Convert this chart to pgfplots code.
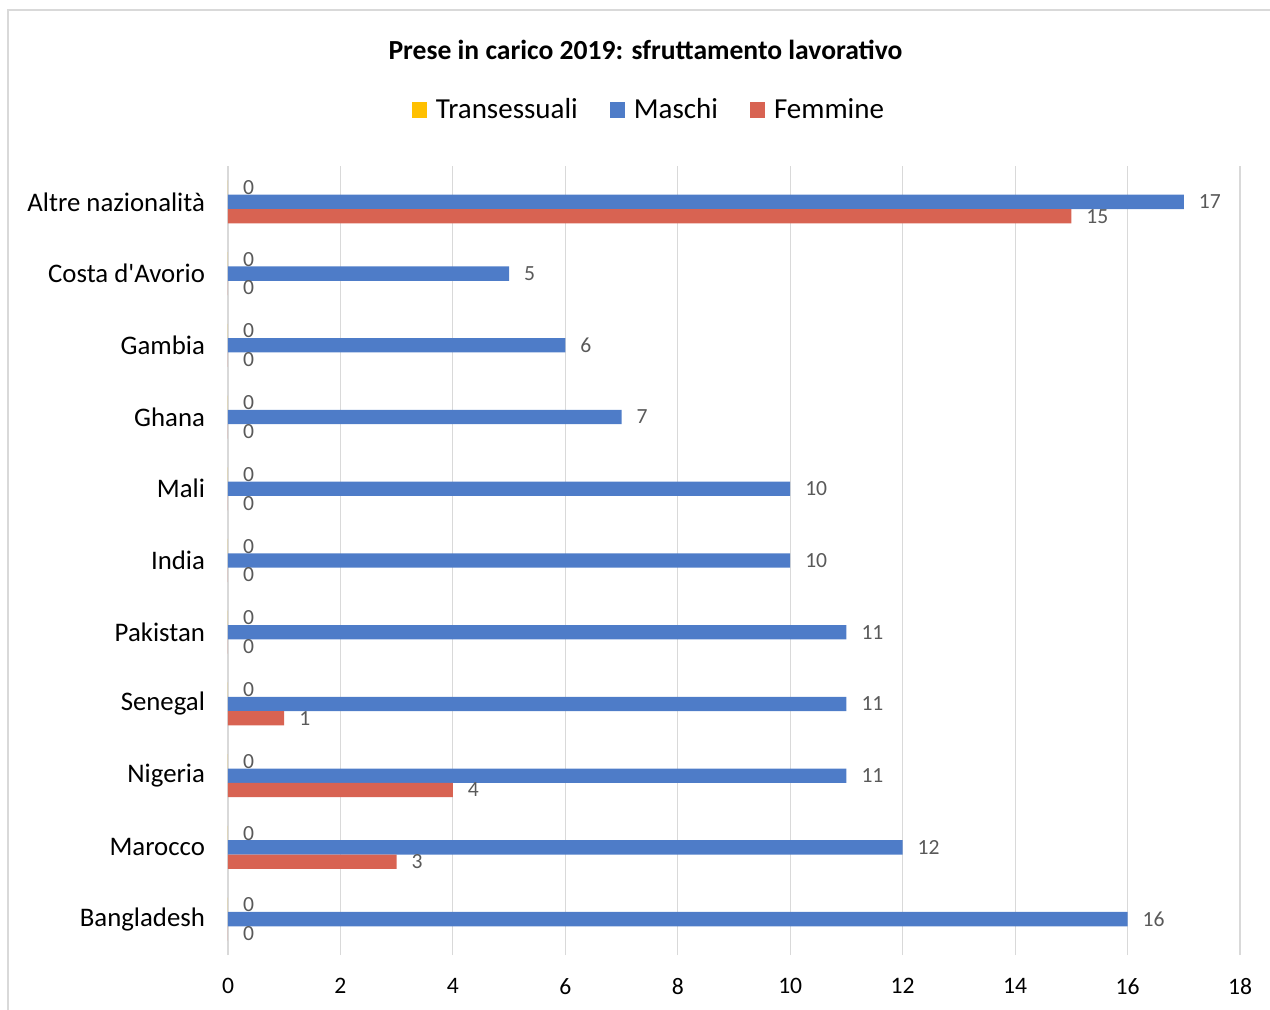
\documentclass[border=0pt]{standalone}
\usepackage{pgfplots}
\pgfplotsset{compat=1.18}
\usepackage{fontspec}
\setmainfont{Carlito}
\definecolor{cyel}{HTML}{FFC000}
\definecolor{cblu}{HTML}{4E7CC8}
\definecolor{cred}{HTML}{D86352}
\definecolor{cgrid}{HTML}{D9D9D9}
\definecolor{clab}{HTML}{595959}
\begin{document}
\begin{tikzpicture}
\useasboundingbox (0,0) rectangle (635pt,-505pt);
\draw[color=cgrid, line width=0.9pt] (4pt,-505pt) -- (4pt,-5pt) -- (635pt,-5pt);
\node[font=\bfseries\fontsize{13.8}{15}\selectfont] at (322.75pt,-25pt) {Prese in carico 2019: sfruttamento lavorativo};
\begin{axis}[
  at={(114pt,-477.5pt)}, anchor=south west,
  scale only axis, width=506pt, height=394.5pt,
  xbar, bar width=0.2,
  xmin=0, xmax=18, ymin=-0.5, ymax=10.5,
  xtick={0,2,...,18},
  ytick={0,...,10},
  yticklabels={Bangladesh,Marocco,Nigeria,Senegal,Pakistan,India,Mali,Ghana,Gambia,Costa d\textquotesingle Avorio,Altre nazionalità},
  xmajorgrids, grid style={cgrid, line width=0.6pt},
  axis line style={draw=none},
  major tick length=0pt,
  /pgf/number format/assume math mode=true,
  xticklabel style={font=\fontsize{11.8}{13}\selectfont, color=black, yshift=-8pt},
  yticklabel style={font=\fontsize{13.4}{15}\selectfont, color=black, xshift=-8pt},
  nodes near coords,
  point meta=x,
  every node near coord/.append style={font=\fontsize{10.8}{12}\selectfont, color=clab, anchor=west, xshift=4pt},
  legend columns=3,
  legend style={at={(0.417,1.071)}, anchor=center, draw=none, fill=none,
    font=\fontsize{14.5}{16}\selectfont,
    /tikz/every even column/.append style={column sep=14pt}},
  legend cell align=left,
  legend image code/.code={\fill[#1] (0pt,-3.8pt) rectangle (7.6pt,3.8pt); \path (10pt,0pt);},
  clip=false,
]
\addplot[fill=cyel, draw=none, bar shift=0.2] coordinates {
(0,0) (0,1) (0,2) (0,3) (0,4) (0,5) (0,6) (0,7) (0,8) (0,9) (0,10)};
\addplot[fill=cblu, draw=none, bar shift=0] coordinates {
(16,0) (12,1) (11,2) (11,3) (11,4) (10,5) (10,6) (7,7) (6,8) (5,9) (17,10)};
\addplot[fill=cred, draw=none, bar shift=-0.2] coordinates {
(0,0) (3,1) (4,2) (1,3) (0,4) (0,5) (0,6) (0,7) (0,8) (0,9) (15,10)};
\legend{Transessuali, Maschi, Femmine}
\end{axis}
\end{tikzpicture}
\end{document}
